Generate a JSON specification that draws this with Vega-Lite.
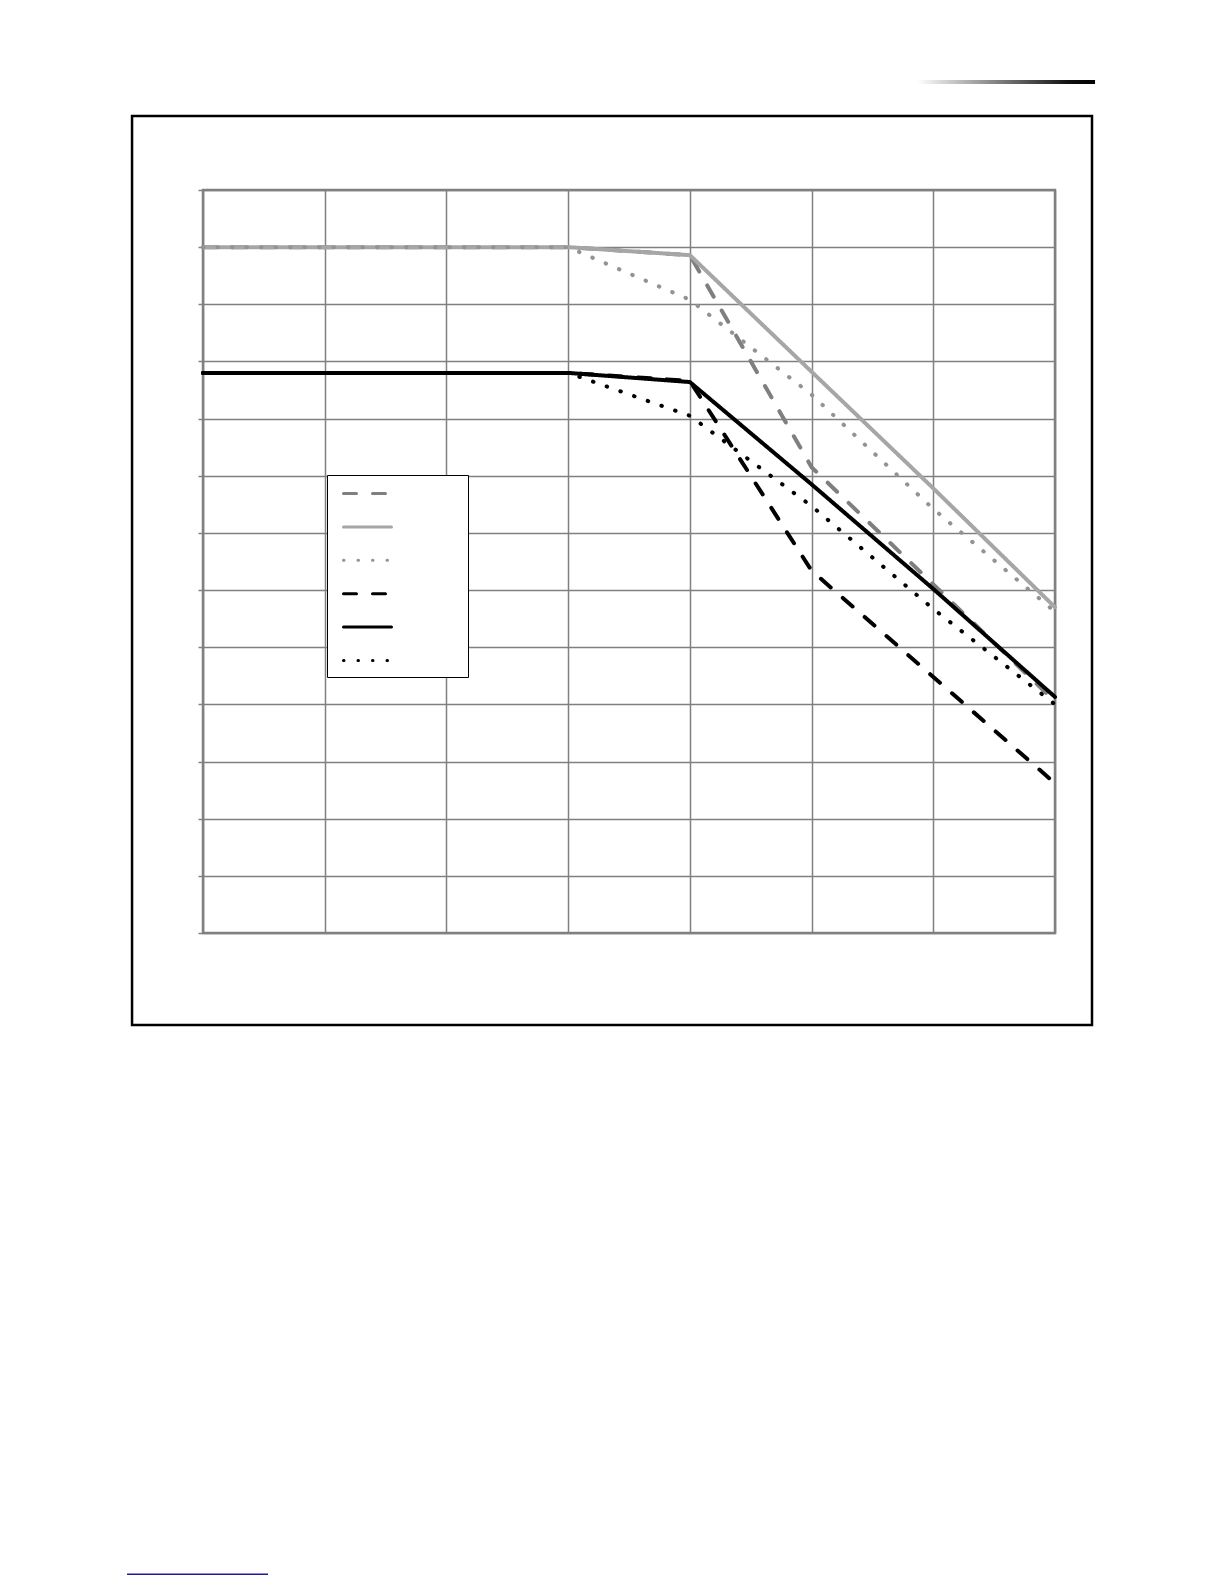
{
  "$schema": "https://vega.github.io/schema/vega-lite/v6.json",
  "width": 852,
  "height": 743,
  "autosize": "none",
  "padding": {"left": 203, "top": 190, "right": 169, "bottom": 651},
  "background": "white",
  "config": {
    "view": {"stroke": "#808080", "strokeWidth": 2.5},
    "axis": {"labels": false, "title": null, "domain": false, "gridColor": "#808080", "gridWidth": 1.5, "gridOpacity": 1}
  },
  "datasets": {
    "frame": [{"x0": -0.583, "x1": 7.304, "y0": -1.61, "y1": 14.295}],
    "bar": [{"x0": 5.866, "x1": 7.329, "y0": 14.855, "y1": 14.925}],
    "link": [{"x0": -0.624, "x1": 0.534, "y0": -11.22}],
    "curves": [
      {"series": "s1", "x": 0, "y": 12}, {"series": "s1", "x": 1, "y": 12}, {"series": "s1", "x": 2, "y": 12}, {"series": "s1", "x": 3, "y": 12},
      {"series": "s1", "x": 4, "y": 11.86}, {"series": "s1", "x": 5, "y": 8.15}, {"series": "s1", "x": 6, "y": 6.1}, {"series": "s1", "x": 7, "y": 4.05},
      {"series": "s2", "x": 0, "y": 12}, {"series": "s2", "x": 1, "y": 12}, {"series": "s2", "x": 2, "y": 12}, {"series": "s2", "x": 3, "y": 12},
      {"series": "s2", "x": 4, "y": 11.86}, {"series": "s2", "x": 5, "y": 9.82}, {"series": "s2", "x": 6, "y": 7.78}, {"series": "s2", "x": 7, "y": 5.7},
      {"series": "s3", "x": 0, "y": 12}, {"series": "s3", "x": 1, "y": 12}, {"series": "s3", "x": 2, "y": 12}, {"series": "s3", "x": 3, "y": 12},
      {"series": "s3", "x": 4, "y": 11.08}, {"series": "s3", "x": 5, "y": 9.42}, {"series": "s3", "x": 6, "y": 7.42}, {"series": "s3", "x": 7, "y": 5.62},
      {"series": "s4", "x": 0, "y": 9.8}, {"series": "s4", "x": 1, "y": 9.8}, {"series": "s4", "x": 2, "y": 9.8}, {"series": "s4", "x": 3, "y": 9.8},
      {"series": "s4", "x": 4, "y": 9.66}, {"series": "s4", "x": 5, "y": 6.34}, {"series": "s4", "x": 6, "y": 4.48}, {"series": "s4", "x": 7, "y": 2.62},
      {"series": "s5", "x": 0, "y": 9.8}, {"series": "s5", "x": 1, "y": 9.8}, {"series": "s5", "x": 2, "y": 9.8}, {"series": "s5", "x": 3, "y": 9.8},
      {"series": "s5", "x": 4, "y": 9.64}, {"series": "s5", "x": 5, "y": 7.85}, {"series": "s5", "x": 6, "y": 6.02}, {"series": "s5", "x": 7, "y": 4.13},
      {"series": "s6", "x": 0, "y": 9.8}, {"series": "s6", "x": 1, "y": 9.8}, {"series": "s6", "x": 2, "y": 9.8}, {"series": "s6", "x": 3, "y": 9.8},
      {"series": "s6", "x": 4, "y": 9.05}, {"series": "s6", "x": 5, "y": 7.47}, {"series": "s6", "x": 6, "y": 5.67}, {"series": "s6", "x": 7, "y": 4.0}
    ]
  },
  "layer": [
    {
      "data": {"name": "frame"},
      "mark": {"type": "rect", "fill": null, "stroke": "black", "strokeWidth": 2.5},
      "encoding": {
        "x": {"field": "x0", "type": "quantitative", "scale": {"domain": [0, 7], "nice": false, "zero": false},
              "axis": {"values": [0, 1, 2, 3, 4, 5, 6, 7], "ticks": false, "grid": true}},
        "x2": {"field": "x1"},
        "y": {"field": "y0", "type": "quantitative", "scale": {"domain": [0, 13], "nice": false, "zero": false},
              "axis": {"values": [0, 1, 2, 3, 4, 5, 6, 7, 8, 9, 10, 11, 12, 13], "ticks": true, "tickSize": 5, "tickColor": "#808080", "tickWidth": 1.5, "grid": true}},
        "y2": {"field": "y1"}
      }
    },
    {
      "data": {"name": "bar"},
      "mark": {"type": "rect", "color": {"gradient": "linear", "x1": 0, "x2": 1, "y1": 0, "y2": 0,
        "stops": [{"offset": 0, "color": "#ffffff"}, {"offset": 0.85, "color": "#111111"}, {"offset": 1, "color": "#000000"}]}},
      "encoding": {
        "x": {"field": "x0", "type": "quantitative", "scale": {"domain": [0, 7]}},
        "x2": {"field": "x1"},
        "y": {"field": "y0", "type": "quantitative", "scale": {"domain": [0, 13]}},
        "y2": {"field": "y1"}
      }
    },
    {
      "data": {"name": "link"},
      "mark": {"type": "rule", "color": "#1b1b9b", "strokeWidth": 1.5},
      "encoding": {
        "x": {"field": "x0", "type": "quantitative", "scale": {"domain": [0, 7]}},
        "x2": {"field": "x1"},
        "y": {"field": "y0", "type": "quantitative", "scale": {"domain": [0, 13]}}
      }
    },
    {
      "data": {"name": "curves"},
      "mark": {"type": "line", "strokeWidth": 4, "strokeCap": "round", "strokeJoin": "round"},
      "encoding": {
        "x": {"field": "x", "type": "quantitative", "scale": {"domain": [0, 7]}},
        "y": {"field": "y", "type": "quantitative", "scale": {"domain": [0, 13]}},
        "color": {
          "field": "series", "type": "nominal",
          "scale": {"domain": ["s1", "s2", "s3", "s4", "s5", "s6"],
                    "range": ["#7f7f7f", "#a6a6a6", "#939393", "#000000", "#000000", "#000000"]},
          "legend": {"orient": "none", "legendX": 124, "legendY": 285, "title": null,
                     "symbolType": "M-0.417,-0.25L3.583,-0.25", "symbolSize": 576, "symbolStrokeWidth": 3,
                     "labelExpr": "''", "labelOffset": 98, "padding": 8, "rowPadding": 14.4,
                     "strokeColor": "black", "fillColor": "white",
                     "encode": {"symbols": {"update": {"strokeCap": {"value": "round"}}}}}
        },
        "strokeDash": {
          "field": "series", "type": "nominal",
          "scale": {"domain": ["s1", "s2", "s3", "s4", "s5", "s6"],
                    "range": [[13, 16], [1, 0], [0.5, 14], [13, 16], [1, 0], [0.5, 14]]},
          "legend": {"orient": "none", "legendX": 124, "legendY": 285, "title": null,
                     "symbolType": "M-0.417,-0.25L3.583,-0.25", "symbolSize": 576, "symbolStrokeWidth": 3,
                     "labelExpr": "''", "labelOffset": 98, "padding": 8, "rowPadding": 14.4,
                     "strokeColor": "black", "fillColor": "white",
                     "encode": {"symbols": {"update": {"strokeCap": {"value": "round"}}}}}
        }
      }
    }
  ]
}
